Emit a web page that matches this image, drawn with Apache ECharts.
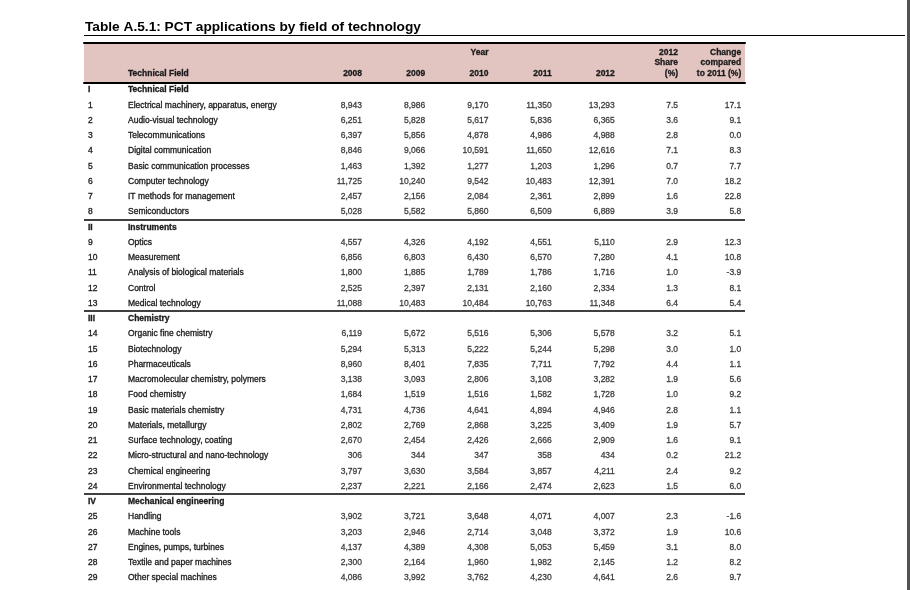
<!DOCTYPE html>
<html>
<head>
<meta charset="utf-8">
<script src="https://cdn.jsdelivr.net/npm/echarts@6/dist/echarts.min.js"></script>
<style>
html, body { margin: 0; padding: 0; background: #fff; }
#main { width: 910px; height: 590px; }
</style>
</head>
<body>
<div id="main"></div>
<script>
// table rows (section rows have no values)
var rowNos = ['I', '1', '2', '3', '4', '5', '6', '7', '8',
    'II', '9', '10', '11', '12', '13',
    'III', '14', '15', '16', '17', '18', '19', '20', '21', '22', '23', '24',
    'IV', '25', '26', '27', '28', '29'];
var rowNames = ['Technical Field', 'Electrical machinery, apparatus, energy', 'Audio-visual technology',
    'Telecommunications', 'Digital communication', 'Basic communication processes', 'Computer technology',
    'IT methods for management', 'Semiconductors',
    'Instruments', 'Optics', 'Measurement', 'Analysis of biological materials', 'Control', 'Medical technology',
    'Chemistry', 'Organic fine chemistry', 'Biotechnology', 'Pharmaceuticals', 'Macromolecular chemistry, polymers',
    'Food chemistry', 'Basic materials chemistry', 'Materials, metallurgy', 'Surface technology, coating',
    'Micro-structural and nano-technology', 'Chemical engineering', 'Environmental technology',
    'Mechanical engineering', 'Handling', 'Machine tools', 'Engines, pumps, turbines',
    'Textile and paper machines', 'Other special machines'];
var v2008 = [null, 8943, 6251, 6397, 8846, 1463, 11725, 2457, 5028,
    null, 4557, 6856, 1800, 2525, 11088,
    null, 6119, 5294, 8960, 3138, 1684, 4731, 2802, 2670, 306, 3797, 2237,
    null, 3902, 3203, 4137, 2300, 4086];
var v2009 = [null, 8986, 5828, 5856, 9066, 1392, 10240, 2156, 5582,
    null, 4326, 6803, 1885, 2397, 10483,
    null, 5672, 5313, 8401, 3093, 1519, 4736, 2769, 2454, 344, 3630, 2221,
    null, 3721, 2946, 4389, 2164, 3992];
var v2010 = [null, 9170, 5617, 4878, 10591, 1277, 9542, 2084, 5860,
    null, 4192, 6430, 1789, 2131, 10484,
    null, 5516, 5222, 7835, 2806, 1516, 4641, 2868, 2426, 347, 3584, 2166,
    null, 3648, 2714, 4308, 1960, 3762];
var v2011 = [null, 11350, 5836, 4986, 11650, 1203, 10483, 2361, 6509,
    null, 4551, 6570, 1786, 2160, 10763,
    null, 5306, 5244, 7711, 3108, 1582, 4894, 3225, 2666, 358, 3857, 2474,
    null, 4071, 3048, 5053, 1982, 4230];
var v2012 = [null, 13293, 6365, 4988, 12616, 1296, 12391, 2899, 6889,
    null, 5110, 7280, 1716, 2334, 11348,
    null, 5578, 5298, 7792, 3282, 1728, 4946, 3409, 2909, 434, 4211, 2623,
    null, 4007, 3372, 5459, 2145, 4641];
var share2012 = [null, 7.5, 3.6, 2.8, 7.1, 0.7, 7.0, 1.6, 3.9,
    null, 2.9, 4.1, 1.0, 1.3, 6.4,
    null, 3.2, 3.0, 4.4, 1.9, 1.0, 2.8, 1.9, 1.6, 0.2, 2.4, 1.5,
    null, 2.3, 1.9, 3.1, 1.2, 2.6];
var change2011 = [null, 17.1, 9.1, 0.0, 8.3, 7.7, 18.2, 22.8, 5.8,
    null, 12.3, 10.8, -3.9, 8.1, 5.4,
    null, 5.1, 1.0, 1.1, 5.6, 9.2, 1.1, 5.7, 9.1, 21.2, 9.2, 6.0,
    null, -1.6, 10.6, 8.0, 8.2, 9.7];
var colHeaders = ['2008', '2009', 'Year\n\n2010', '2011', '2012', '2012\nShare\n(%)', 'Change\ncompared\nto 2011 (%)'];

var columns = [v2008, v2009, v2010, v2011, v2012, share2012, change2011];
var sectionRows = ['I', 'II', 'III', 'IV'];

var font = "'Liberation Sans', Arial, sans-serif";
var txt = '#1a1a1a';
var ROW_H = 15.25;

function fmt(col, v) {
    if (col >= 5) return v.toFixed(1);
    return v.toLocaleString('en-US');
}

// slightly heavier text, the source uses a dense condensed face
var heavy = {textBorderColor: txt, textBorderWidth: 0.3};

var series = columns.map(function (arr, c) {
    var data = [];
    arr.forEach(function (v, r) {
        if (v !== null) data.push([c, String(r), v]);
    });
    return {
        type: 'scatter',
        xAxisIndex: 0,
        yAxisIndex: 0,
        symbolSize: 0,
        silent: true,
        data: data,
        label: echarts.util.extend({
            show: true,
            position: 'inside',
            align: 'right',
            verticalAlign: 'middle',
            color: txt,
            fontFamily: font,
            fontSize: 8.5,
            formatter: function (p) { return fmt(c, p.value[2]); }
        }, heavy)
    };
});

function rs(bold) {
    return echarts.util.extend({fontFamily: font, fontSize: 8.5, fontWeight: bold ? 'bold' : 'normal', color: txt}, heavy);
}

var myChart = echarts.init(document.getElementById('main'), null, {renderer: 'canvas'});
myChart.setOption({
    animation: false,
    backgroundColor: '#fff',
    title: [
        {
            text: 'Table A.5.1: PCT applications by field of technology',
            left: 85,
            top: 20,
            padding: 0,
            textStyle: {
                fontFamily: font,
                fontSize: 13.7,
                fontWeight: 'bold',
                color: '#000'
            }
        },
        {
            text: 'Technical Field',
            left: 128,
            top: 69,
            padding: 0,
            textStyle: rs(true)
        }
    ],
    graphic: [
        {type: 'line', shape: {x1: 84, y1: 35.5, x2: 905, y2: 35.5}, style: {stroke: '#000', lineWidth: 1.2}},
        {type: 'rect', shape: {x: 907, y: 0, width: 3, height: 590}, style: {fill: '#525252'}}
    ],
    grid: [
        {left: 84, right: 165, top: 82.4, height: rowNos.length * ROW_H},
        {left: 84, right: 165, top: 43, height: 39.4, show: true, backgroundColor: '#e2c4c1', borderWidth: 0, z: 0}
    ],
    xAxis: [
        {
            gridIndex: 0,
            type: 'value',
            position: 'top',
            min: -4.4,
            max: 6.06,
            axisLine: {show: true, onZero: false, lineStyle: {color: '#000', width: 2}},
            axisTick: {show: false},
            splitLine: {show: false},
            axisLabel: echarts.util.extend({
                customValues: [0, 1, 2, 3, 4, 5, 6],
                formatter: function (v) { return colHeaders[Math.round(v)]; },
                align: 'right',
                margin: 3.5,
                lineHeight: 10.5
            }, rs(true))
        },
        {
            gridIndex: 1,
            type: 'value',
            position: 'top',
            min: 0,
            max: 1,
            axisLine: {show: true, onZero: false, lineStyle: {color: '#000', width: 2}},
            axisTick: {show: false},
            axisLabel: {show: false},
            splitLine: {show: false}
        }
    ],
    yAxis: [
        {
            gridIndex: 0,
            type: 'category',
            inverse: true,
            data: rowNos.map(function (d, i) { return String(i); }),
            axisLine: {show: false},
            axisTick: {show: false},
            axisLabel: {
                inside: true,
                margin: 4,
                interval: 0,
                formatter: function (v) {
                    var idx = Number(v);
                    var sec = sectionRows.indexOf(rowNos[idx]) >= 0;
                    return sec ? '{nb|' + rowNos[idx] + '}{tb|' + rowNames[idx] + '}'
                        : '{n|' + rowNos[idx] + '}{t|' + rowNames[idx] + '}';
                },
                rich: {
                    n: echarts.util.extend({width: 40}, rs(false)),
                    t: rs(false),
                    nb: echarts.util.extend({width: 40}, rs(true)),
                    tb: rs(true)
                }
            },
            splitLine: {
                show: true,
                showMaxLine: false,
                interval: function (i) { return i > 0 && sectionRows.indexOf(rowNos[i]) >= 0; },
                lineStyle: {color: '#000', width: 1.5}
            }
        },
        {
            gridIndex: 1,
            type: 'value',
            show: false
        }
    ],
    series: series
});
</script>
</body>
</html>
